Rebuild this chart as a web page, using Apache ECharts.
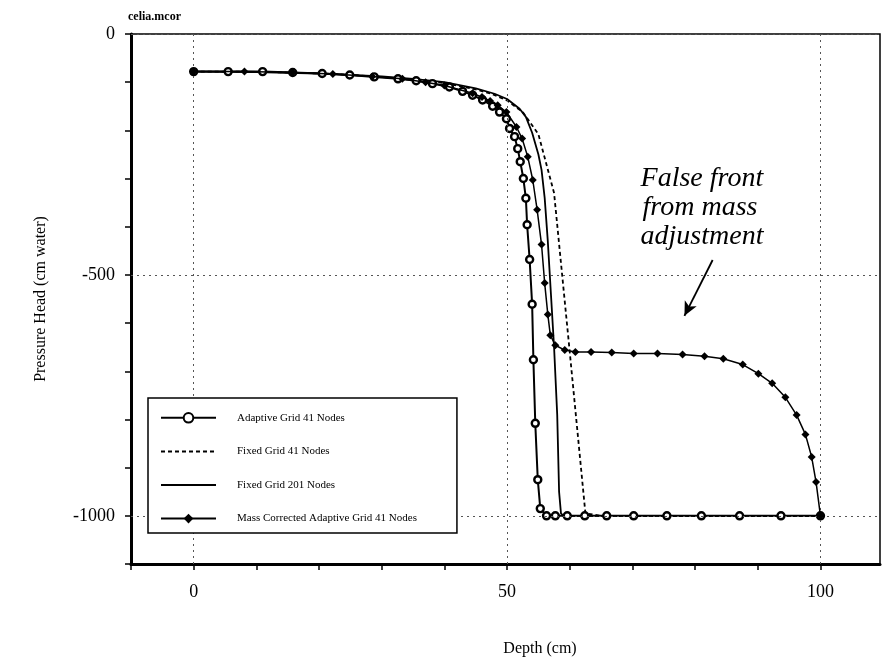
<!DOCTYPE html>
<html><head><meta charset="utf-8">
<script src="https://cdn.jsdelivr.net/npm/echarts@6/dist/echarts.min.js"></script>
<style>html,body{margin:0;padding:0;background:#fff}#c{width:883px;height:662px}</style>
</head><body><div id="c"></div><script>
const titleText = 'celia.mcor';
const seriesNames = ['Adaptive Grid 41 Nodes', 'Fixed Grid 41 Nodes', 'Fixed Grid 201 Nodes', 'Mass Corrected Adaptive Grid 41 Nodes'];
const xLabelTicks = [0, 50, 100];
const yLabelTicks = [0, -500, -1000];

const adaptiveX = [0, 5.5, 11, 15.8, 20.5, 24.9, 28.8, 32.6, 35.5, 38.1, 40.8, 42.9, 44.5, 46.1, 47.7, 48.8, 49.9, 50.4, 51.2, 51.7, 52.1, 52.6, 53.0, 53.2, 53.6, 54.0, 54.2, 54.5, 54.9, 55.3, 56.3, 57.7, 59.6, 62.4, 65.9, 70.2, 75.5, 81.0, 87.1, 93.7, 100];
const adaptiveY = [-78, -78, -78, -80, -82, -85, -89, -93, -97, -103, -110, -119, -127, -137, -150, -162, -176, -196, -213, -238, -265, -300, -341, -396, -468, -561, -676, -808, -925, -985, -1000, -1000, -1000, -1000, -1000, -1000, -1000, -1000, -1000, -1000, -1000];

const fixed41X = [0, 2.5, 5, 7.5, 10, 12.5, 15, 17.5, 20, 22.5, 25, 27.5, 30, 32.5, 35, 37.5, 40, 42.5, 45, 47.5, 50, 52.5, 55, 57.5, 60, 62.5, 65, 67.5, 70, 72.5, 75, 77.5, 80, 82.5, 85, 87.5, 90, 92.5, 95, 97.5, 100];
const fixed41Y = [-78, -78, -78, -78, -79, -79, -80, -81, -82, -83, -85, -87, -89, -92, -95, -98, -102, -108, -115, -124, -138, -162, -208, -330, -660, -995, -1000, -1000, -1000, -1000, -1000, -1000, -1000, -1000, -1000, -1000, -1000, -1000, -1000, -1000, -1000];

const fine201X = [0, 10, 20, 30, 35, 40, 45, 48, 50, 52, 53, 54, 55, 55.5, 56, 56.5, 57, 57.5, 58, 58.3, 58.6, 59, 60, 70, 80, 90, 100];
const fine201Y = [-78, -79, -82, -88, -93, -100, -113, -124, -135, -155, -172, -205, -250, -282, -340, -430, -540, -650, -790, -950, -995, -1000, -1000, -1000, -1000, -1000, -1000];

const massX = [0, 8.1, 15.8, 22.2, 28.5, 33.3, 37, 40, 44.5, 46, 47.3, 48.5, 49.9, 51.5, 52.4, 53.3, 54.1, 54.8, 55.5, 56.0, 56.5, 56.9, 57.7, 59.2, 60.9, 63.4, 66.7, 70.2, 74.0, 78.0, 81.5, 84.5, 87.6, 90.1, 92.3, 94.4, 96.2, 97.6, 98.6, 99.3, 100];
const massY = [-78, -78, -80, -83, -88, -93, -100, -107, -123, -131, -139, -148, -162, -193, -217, -255, -303, -365, -437, -517, -582, -625, -646, -656, -660, -660, -661, -663, -663, -665, -669, -674, -686, -705, -725, -754, -791, -831, -878, -930, -1000];

const annotationLines = ['False front', 'from mass', 'adjustment'];
const annotationAnchor = [71.3, -272];
const arrowFrom = [82.8, -469];
const arrowTo = [78.3, -585];

const zip = (xs, ys) => xs.map((x, i) => [x, ys[i]]);
const serif = 'Liberation Serif';
const chart = echarts.init(document.getElementById('c'), null, {renderer: 'canvas'});

const gridMark = {
  silent: true, symbol: 'none', label: {show: false},
  lineStyle: {color: '#555', type: [2, 4], width: 1},
  data: xLabelTicks.map(v => ({xAxis: v})).concat(yLabelTicks.map(v => ({yAxis: v})))
};

const noSymbol = {color: 'rgba(0,0,0,0)', borderWidth: 0, opacity: 0};

chart.setOption({
  animation: false,
  backgroundColor: '#fff',
  title: {text: titleText, left: 123, top: 6, textStyle: {fontFamily: serif, fontSize: 12, fontWeight: 'bold', color: '#000'}},
  grid: {left: 131, right: 3, top: 34, bottom: 95, show: true, borderColor: '#000', borderWidth: 1.5, containLabel: false},
  legend: {
    orient: 'vertical', left: 148, top: 398, z: 20,
    data: [
      {name: seriesNames[0]},
      {name: seriesNames[1], itemStyle: noSymbol},
      {name: seriesNames[2], itemStyle: noSymbol},
      {name: seriesNames[3]}
    ],
    itemWidth: 55, itemHeight: 12, itemGap: 22.5,
    padding: [14, 40, 9, 12],
    borderColor: '#000', borderWidth: 1.5, backgroundColor: '#fff',
    textStyle: {fontFamily: serif, fontSize: 11, color: '#000', padding: [0, 0, 0, 16]}
  },
  xAxis: {
    type: 'value', min: -10, max: 109.5, interval: 10,
    name: 'Depth (cm)', nameLocation: 'middle', nameGap: 77,
    nameTextStyle: {fontFamily: serif, fontSize: 16, color: '#000', padding: [0, 0, 0, 69]},
    axisLine: {show: true, onZero: false, lineStyle: {color: '#000', width: 3}},
    axisTick: {show: true, length: 6, lineStyle: {color: '#000', width: 1.5}},
    axisLabel: {fontFamily: serif, fontSize: 18, color: '#000', margin: 19, showMaxLabel: false,
      formatter: v => xLabelTicks.includes(v) ? String(v) : ''},
    splitLine: {show: false}
  },
  yAxis: {
    type: 'value', min: -1100, max: 0, interval: 100,
    name: 'Pressure Head (cm water)', nameLocation: 'middle', nameGap: 82, nameRotate: 90,
    nameTextStyle: {fontFamily: serif, fontSize: 16, color: '#000'},
    axisLine: {show: true, onZero: false, lineStyle: {color: '#000', width: 3}},
    axisTick: {show: true, length: 6, lineStyle: {color: '#000', width: 1.5}},
    axisLabel: {fontFamily: serif, fontSize: 18, color: '#000', margin: 16,
      formatter: v => yLabelTicks.includes(v) ? String(v) : ''},
    splitLine: {show: false}
  },
  series: [
    {
      name: seriesNames[0], type: 'line', data: zip(adaptiveX, adaptiveY),
      symbol: 'circle', symbolSize: 7, showAllSymbol: true, z: 4,
      lineStyle: {color: '#000', width: 2},
      itemStyle: {color: '#fff', borderColor: '#000', borderWidth: 2.4},
      markLine: gridMark
    },
    {
      name: seriesNames[1], type: 'line', data: zip(fixed41X, fixed41Y),
      symbol: 'none', z: 3,
      lineStyle: {color: '#000', width: 1.8, type: [4, 3]},
      itemStyle: {color: '#000'}
    },
    {
      name: seriesNames[2], type: 'line', data: zip(fine201X, fine201Y),
      symbol: 'none', z: 3,
      lineStyle: {color: '#000', width: 1.8},
      itemStyle: {color: '#000'}
    },
    {
      name: seriesNames[3], type: 'line', data: zip(massX, massY),
      symbol: 'diamond', symbolSize: 8, showAllSymbol: true, z: 5,
      lineStyle: {color: '#000', width: 1.5},
      itemStyle: {color: '#000'},
      markLine: {
        silent: true, symbol: ['none', 'arrow'], symbolSize: [10, 14], label: {show: false},
        lineStyle: {color: '#000', width: 1.8, type: 'solid', curveness: 0.15},
        data: [[{coord: arrowFrom}, {coord: arrowTo}]]
      }
    }
  ]
});

const p = chart.convertToPixel({xAxisIndex: 0, yAxisIndex: 0}, annotationAnchor);
chart.setOption({
  graphic: annotationLines.map((t, i) => ({
    type: 'text', left: p[0] + (i === 1 ? 2 : 0), top: p[1] + i * 29,
    style: {text: t, font: 'italic 28px "Liberation Serif"', fill: '#000'}
  }))
});
</script></body></html>
